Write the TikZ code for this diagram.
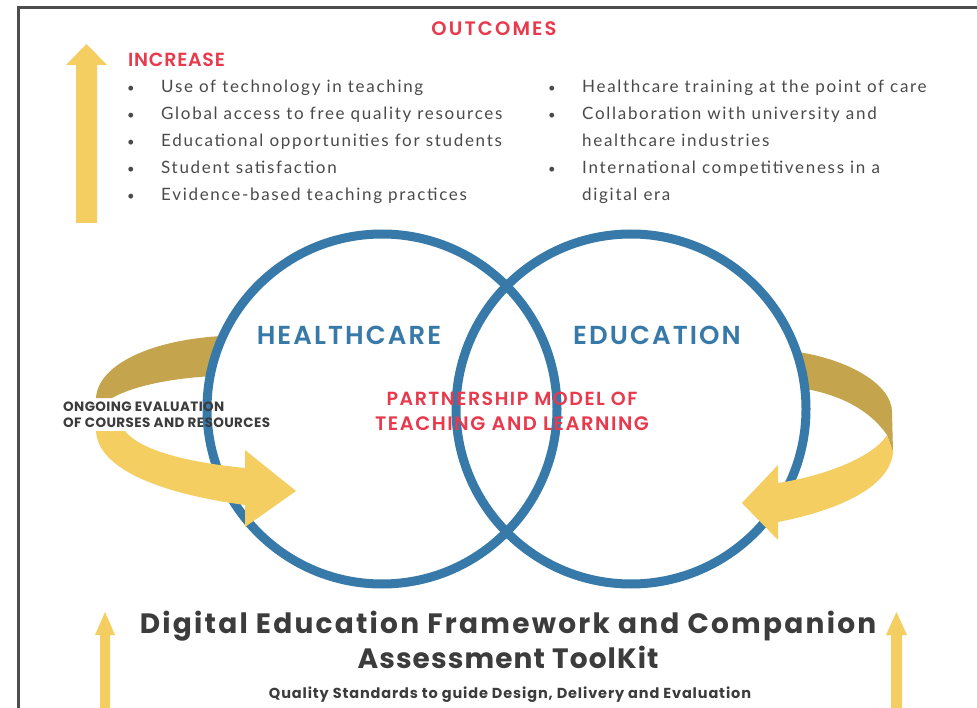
\documentclass[tikz,border=0pt]{standalone}
\usepackage{fontspec}
\setmainfont{Lato}
\newfontfamily\bulletfont{Lato}[LetterSpace=10]
\newfontfamily\headfont{Poppins SemiBold}[LetterSpace=8]
\newfontfamily\headwidefont{Poppins SemiBold}[LetterSpace=11]
\newfontfamily\headnarrowfont{Poppins SemiBold}[LetterSpace=4]
\newfontfamily\titlefont{Poppins}[LetterSpace=3]
\newfontfamily\titlewidefont{Poppins}[LetterSpace=8]
\newfontfamily\titlenarrowfont{Poppins}[LetterSpace=4]
\newfontfamily\subfont{Poppins}[LetterSpace=6]
\definecolor{hred}{HTML}{E8394D}
\definecolor{cblue}{HTML}{3779A8}
\definecolor{goldlt}{HTML}{F4CE60}
\definecolor{golddk}{HTML}{C4A54D}
\definecolor{txtgray}{HTML}{4A4A4A}
\definecolor{ttlgray}{HTML}{3C3C3C}
\definecolor{framegray}{HTML}{4D4D4D}
\tikzset{
  ring/.style={circle, draw=cblue, line width=9pt, inner sep=0pt, outer sep=0pt, minimum size=350pt},
  bul/.style={anchor=base west, inner sep=0pt, text=txtgray, font=\bulletfont\fontsize{17}{20}\selectfont},
  dot/.style={anchor=base, inner sep=0pt, text=txtgray, font=\bulletfont\fontsize{13}{20}\selectfont},
  head/.style={anchor=base, inner sep=0pt, text=hred, font=\headfont\fontsize{19}{22}\selectfont},
  bighead/.style={anchor=base, inner sep=0pt, text=cblue, font=\headfont\fontsize{26}{30}\selectfont},
  evaltext/.style={anchor=base west, inner sep=0pt, text=ttlgray, font=\titlefont\bfseries\fontsize{13.5}{16}\selectfont},
  ttl/.style={anchor=base, inner sep=0pt, text=ttlgray, font=\titlefont\bfseries\fontsize{28}{32}\selectfont},
  subttl/.style={anchor=base, inner sep=0pt, text=ttlgray, font=\subfont\bfseries\fontsize{14.5}{16}\selectfont}
}
\begin{document}
\begin{tikzpicture}[x=1pt,y=-1pt]
\useasboundingbox (0,0) rectangle (977,708);
\clip (0,0) rectangle (977,708);
\fill[white] (0,0) rectangle (977,708);
% frame
\draw[framegray, line width=3pt] (18,720) -- (18,8) -- (990,8);
% up arrows
\fill[goldlt] (76,223) -- (76,65) -- (66,65) -- (86.5,44) -- (107,65) -- (97,65) -- (97,223) -- cycle;
\fill[goldlt] (100,720) -- (100,635) -- (95,635) -- (105,612) -- (115,635) -- (110,635) -- (110,720) -- cycle;
\fill[goldlt] (891,720) -- (891,635) -- (886,635) -- (896.5,612) -- (907,635) -- (902,635) -- (902,720) -- cycle;
% back (dark) ribbon parts
\fill[golddk] (222,336) .. controls (150,340) and (98,365) .. (96,398) -- (112,398) .. controls (135,385) and (175,378) .. (214,376) -- cycle;
\fill[golddk] (798,352) .. controls (850,360) and (892,385) .. (892,412) -- (893,452) -- (887,435) .. controls (870,410) and (840,395) .. (806,389) -- cycle;
% circles
\node[ring] (hc) at (382,409) {};
\node[ring] (ed) at (631,409) {};
% front (light) ribbon parts
\fill[goldlt] (96,431) .. controls (98,472) and (170,495) .. (245,505) -- (245,527) -- (296,491) -- (245,450) -- (245,468) .. controls (185,462) and (140,450) .. (125,431) -- cycle;
\fill[goldlt] (887,435) -- (893,452) .. controls (890,490) and (830,512) .. (778,522) -- (778,540) -- (742,503) -- (778,465) -- (778,483) .. controls (830,475) and (875,455) .. (887,435) -- cycle;
% headings
\node[head, font=\headwidefont\fontsize{19.5}{22}\selectfont] (outcomes) at (494,36) {OUTCOMES};
\node[head, anchor=base west, font=\headnarrowfont\fontsize{19}{22}\selectfont] (increase) at (128,67) {INCREASE};
% left bullets
\node[dot] (d1) at (131,93) {•};
\node[dot] (d2) at (131,120) {•};
\node[dot] (d3) at (131,147) {•};
\node[dot] (d4) at (131,174) {•};
\node[dot] (d5) at (131,201) {•};
\node[bul] (l1) at (161,93) {Use of technology in teaching};
\node[bul] (l2) at (161,120) {Global access to free quality resources};
\node[bul] (l3) at (161,147) {Educational opportunities for students};
\node[bul] (l4) at (161,174) {Student satisfaction};
\node[bul] (l5) at (161,201) {Evidence-based teaching practices};
% right bullets
\node[dot] (e1) at (552,93) {•};
\node[dot] (e2) at (552,120) {•};
\node[dot] (e4) at (552,174) {•};
\node[bul] (r1) at (582,93) {Healthcare training at the point of care};
\node[bul] (r2) at (582,120) {Collaboration with university and};
\node[bul] (r3) at (582,147) {healthcare industries};
\node[bul] (r4) at (582,174) {International competitiveness in a};
\node[bul] (r5) at (582,201) {digital era};
% circle labels
\node[bighead] (hcl) at (349,345) {HEALTHCARE};
\node[bighead] (edl) at (657,345) {EDUCATION};
\node[head] (p1) at (512,406) {PARTNERSHIP MODEL OF};
\node[head, font=\headfont\fontsize{19.5}{22}\selectfont] (p2) at (512,430) {TEACHING AND LEARNING};
\node[evaltext] (ev1) at (63,411) {ONGOING EVALUATION};
\node[evaltext] (ev2) at (63,428) {OF COURSES AND RESOURCES};
% title
\node[ttl, font=\titlewidefont\bfseries\fontsize{28}{32}\selectfont] (t1) at (508,633) {Digital Education Framework and Companion};
\node[ttl, font=\titlenarrowfont\bfseries\fontsize{28}{32}\selectfont] (t2) at (508,668) {Assessment ToolKit};
\node[subttl] (t3) at (510,698) {Quality Standards to guide Design, Delivery and Evaluation};
\end{tikzpicture}
\end{document}
